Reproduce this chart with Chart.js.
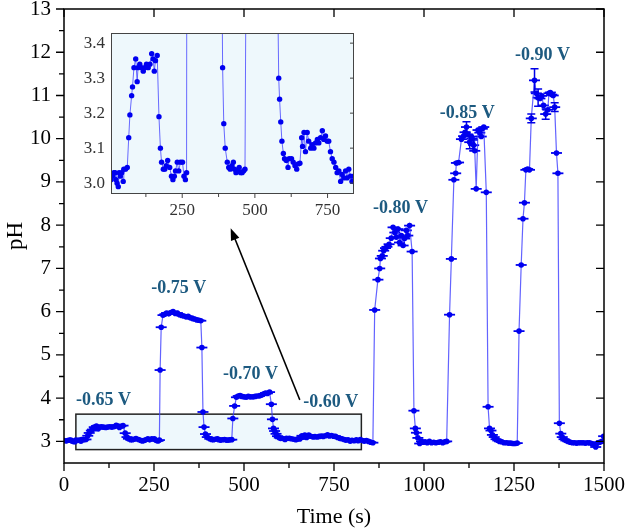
<!DOCTYPE html>
<html>
<head>
<meta charset="utf-8">
<script src="https://cdn.jsdelivr.net/npm/chart.js@4.4.1/dist/chart.umd.min.js"></script>
<style>
    body { margin: 0; background: #fff; }
    #wrap { position: relative; width: 628px; height: 528px; }
    #insetChart { position: absolute; left: 60px; top: 20px; }
</style>
</head>
<body>
<div id="wrap">
    <canvas id="mainChart" width="628" height="528"></canvas>
    <canvas id="insetChart" width="310" height="210"></canvas>
</div>
<script>
// measured series: time (s) and pH
const times = [
    0, 5, 10, 15, 19, 22, 26, 30, 33, 37, 42, 47, 49, 55, 61, 66, 70, 76, 79, 84,
    90, 95, 98, 104, 110, 116, 121, 127, 133, 139, 145, 150, 154, 158, 164, 170, 175, 179, 185, 190,
    195, 200, 207, 213, 218, 223, 227, 233, 238, 244, 251, 256, 261, 265,
    267, 270, 275, 280, 285, 291, 297, 303, 309, 315, 321, 327, 333, 339, 345, 351, 357, 363, 369, 375,
    380, 383, 386, 389, 393, 398, 405, 410, 415, 421, 426, 430, 435, 440, 446, 451, 456, 461, 466,
    469, 474, 479, 484, 489, 494, 500, 506, 512, 518, 525, 531, 537, 543, 549, 555, 560, 565, 571, 576,
    579, 582, 585, 589, 593, 598, 602, 608, 614, 618, 626, 632, 638, 644, 649, 655, 661, 664, 669, 674,
    680, 685, 692, 697, 703, 709, 715, 720, 726, 732, 737, 743, 749, 754, 760, 766, 772, 778, 783, 789,
    795, 800, 806, 812, 817, 823, 829, 834, 840, 846, 852, 858,
    863, 872, 877, 879, 884, 888, 893, 897, 903, 909, 914, 919, 923, 928, 932, 937, 942, 946, 951, 955,
    960, 967, 972, 976, 979, 983, 988, 993, 998, 1003, 1009, 1015, 1021, 1027, 1033, 1040, 1046, 1052, 1058, 1063,
    1071, 1076, 1083, 1088, 1090, 1096, 1104, 1110, 1114, 1118, 1122, 1127, 1131, 1134, 1138, 1141, 1145, 1150, 1155, 1159,
    1162, 1166, 1173, 1178, 1182, 1186, 1190, 1195, 1200, 1205, 1210, 1216, 1222, 1229, 1235, 1241, 1247, 1253, 1259,
    1264, 1270, 1275, 1279, 1283, 1288, 1293, 1298, 1307, 1312, 1317, 1322, 1327, 1332, 1338, 1344, 1347, 1351, 1355, 1359,
    1363, 1368, 1372, 1376, 1380, 1384, 1389, 1394, 1400, 1406, 1412, 1418, 1424, 1430, 1436, 1442, 1448, 1454, 1460, 1466,
    1471, 1477, 1482, 1488, 1494, 1499
];
const pH = [
    3.02, 3.01, 3.02, 3.03, 3.03, 3.01, 3.00, 2.99, 3.03, 3.02, 3.03, 3.005, 3.04, 3.04, 3.045, 3.13, 3.195, 3.25, 3.275, 3.33,
    3.355, 3.29, 3.33, 3.34, 3.33, 3.32, 3.33, 3.34, 3.33, 3.34, 3.37, 3.355, 3.32, 3.35, 3.365, 3.19, 3.10, 3.06, 3.04, 3.04,
    3.05, 3.065, 3.045, 3.02, 3.01, 3.02, 3.035, 3.06, 3.035, 3.06, 3.06, 3.02, 3.01, 3.03,
    4.65, 5.64, 5.92, 5.94, 5.97, 5.95, 5.98, 6.00, 5.96, 5.97, 5.93, 5.91, 5.90, 5.88, 5.89, 5.86, 5.84, 5.83, 5.81, 5.80,
    5.79, 5.17, 3.68, 3.33, 3.17, 3.10, 3.06, 3.045, 3.04, 3.05, 3.06, 3.04, 3.03, 3.037, 3.045, 3.03, 3.03, 3.035, 3.04,
    3.53, 3.82, 4.02, 4.05, 4.06, 4.04, 4.03, 4.02, 4.04, 4.03, 4.03, 4.04, 4.05, 4.05, 4.07, 4.10, 4.12, 4.11, 4.14, 3.86,
    3.51, 3.30, 3.24, 3.175, 3.12, 3.085, 3.07, 3.065, 3.045, 3.07, 3.07, 3.06, 3.05, 3.04, 3.055, 3.057, 3.13, 3.105, 3.145, 3.09,
    3.145, 3.12, 3.10, 3.11, 3.10, 3.115, 3.125, 3.115, 3.13, 3.15, 3.125, 3.135, 3.12, 3.12, 3.09, 3.07, 3.06, 3.045, 3.03, 3.035,
    3.005, 3.025, 3.015, 3.035, 3.015, 3.04, 3.02, 3.005, 3.02, 3.00, 2.98, 2.97,
    6.04, 6.74, 7.00, 7.23, 7.29, 7.41, 7.47, 7.50, 7.56, 7.70, 7.95, 7.83, 7.72, 7.91, 7.60, 7.76, 7.53, 7.69, 7.88, 7.76,
    7.99, 7.39, 3.71, 3.30, 3.20, 3.08, 2.95, 3.00, 2.98, 2.99, 2.97, 3.00, 2.97, 2.98, 2.97, 2.98, 2.99, 2.97, 2.99, 3.00,
    5.93, 7.22, 9.05, 9.20, 9.44, 9.45, 9.99, 10.06, 10.15, 10.27, 10.10, 9.92, 10.05, 10.00, 9.85, 9.72, 8.84, 10.20, 10.14, 10.05,
    10.23, 10.27, 8.76, 3.80, 3.30, 3.25, 3.15, 3.10, 3.05, 3.02, 3.00, 2.99, 2.97, 2.97, 2.96, 2.96, 2.95, 2.95, 2.96,
    5.55, 7.08, 8.15, 8.52, 9.28, 9.30, 9.28, 10.47, 11.35, 11.05, 10.95, 10.93, 10.99, 10.77, 10.57, 10.67, 11.05, 11.07, 11.02, 11.00,
    10.73, 9.67, 9.20, 3.42, 3.18, 3.10, 3.05, 3.02, 3.00, 2.98, 2.97, 2.97, 2.96, 2.97, 2.97, 2.97, 2.96, 2.97, 2.97, 2.95,
    2.93, 2.87, 2.96, 2.98, 3.00, 3.12
];
// vertical error bars: time -> +/- pH
const pHErr = { 1118: 0.12, 1127: 0.15, 1138: 0.12, 1298: 0.1, 1307: 0.27, 1317: 0.2, 1338: 0.12, 1363: 0.1 };

const xTicks = [0, 250, 500, 750, 1000, 1250, 1500];
const yTicks = [3, 4, 5, 6, 7, 8, 9, 10, 11, 12, 13];
const insetXTicks = [250, 500, 750];
const insetYTicks = [3.0, 3.1, 3.2, 3.3, 3.4];

const voltLabels = ['-0.65 V', '-0.75 V', '-0.70 V', '-0.60 V', '-0.80 V', '-0.85 V', '-0.90 V'];
const voltLabelAt = [[110, 3.96], [319, 6.55], [518, 4.54], [741, 3.9], [935, 8.4], [1120, 10.59], [1329, 11.93]];
const zoomBox = { x0: 33, x1: 826, y0: 2.81, y1: 3.63 };
const arrowFromTo = [[655, 3.96], [463, 7.93]];

const SERIF = "'Liberation Serif', 'Times New Roman', serif";
const series = times.map((t, i) => ({ x: t, y: pH[i] }));

function midpoints(arr) {
    return arr.slice(1).map((v, i) => (v + arr[i]) / 2);
}

const mainDecor = {
    id: 'mainDecor',
    beforeDatasetsDraw(chart) {
        const { ctx, scales: { x, y } } = chart;
        const l = x.getPixelForValue(zoomBox.x0), r = x.getPixelForValue(zoomBox.x1);
        const t = y.getPixelForValue(zoomBox.y1), b = y.getPixelForValue(zoomBox.y0);
        ctx.save();
        ctx.fillStyle = '#eef8fc';
        ctx.fillRect(l, t, r - l, b - t);
        ctx.strokeStyle = '#222';
        ctx.lineWidth = 1.5;
        ctx.strokeRect(l, t, r - l, b - t);
        ctx.restore();
    },
    afterDatasetsDraw(chart) {
        const { ctx, scales: { x, y } } = chart;
        ctx.save();
        // error bars
        ctx.strokeStyle = '#0000e6';
        ctx.lineWidth = 1.5;
        Object.keys(pHErr).forEach(k => {
            const t = Number(k);
            const v = pH[times.indexOf(t)];
            const px = x.getPixelForValue(t);
            const top = y.getPixelForValue(v + pHErr[k]), bot = y.getPixelForValue(v - pHErr[k]);
            ctx.beginPath();
            ctx.moveTo(px, top); ctx.lineTo(px, bot);
            ctx.moveTo(px - 4, top); ctx.lineTo(px + 4, top);
            ctx.moveTo(px - 4, bot); ctx.lineTo(px + 4, bot);
            ctx.stroke();
        });
        // voltage labels
        ctx.fillStyle = '#1d5a80';
        ctx.font = 'bold 18px ' + SERIF;
        ctx.textAlign = 'center';
        ctx.textBaseline = 'middle';
        voltLabels.forEach((txt, i) => {
            ctx.fillText(txt, x.getPixelForValue(voltLabelAt[i][0]), y.getPixelForValue(voltLabelAt[i][1]));
        });
        // arrow to inset
        const x0 = x.getPixelForValue(arrowFromTo[0][0]), y0 = y.getPixelForValue(arrowFromTo[0][1]);
        const x1 = x.getPixelForValue(arrowFromTo[1][0]), y1 = y.getPixelForValue(arrowFromTo[1][1]);
        const ang = Math.atan2(y1 - y0, x1 - x0);
        ctx.strokeStyle = '#000';
        ctx.fillStyle = '#000';
        ctx.lineWidth = 1.5;
        ctx.beginPath();
        ctx.moveTo(x0, y0);
        ctx.lineTo(x1 - 8 * Math.cos(ang), y1 - 8 * Math.sin(ang));
        ctx.stroke();
        ctx.beginPath();
        ctx.moveTo(x1, y1);
        ctx.lineTo(x1 - 12 * Math.cos(ang) + 4.5 * Math.sin(ang), y1 - 12 * Math.sin(ang) - 4.5 * Math.cos(ang));
        ctx.lineTo(x1 - 12 * Math.cos(ang) - 4.5 * Math.sin(ang), y1 - 12 * Math.sin(ang) + 4.5 * Math.cos(ang));
        ctx.closePath();
        ctx.fill();
        ctx.restore();
    },
    afterDraw(chart) {
        const { ctx, chartArea: a, scales: { x, y } } = chart;
        ctx.save();
        ctx.strokeStyle = '#000';
        ctx.lineWidth = 1.5;
        ctx.strokeRect(a.left, a.top, a.right - a.left, a.bottom - a.top);
        ctx.lineWidth = 1.3;
        ctx.beginPath();
        xTicks.forEach(v => {
            const px = x.getPixelForValue(v);
            ctx.moveTo(px, a.bottom); ctx.lineTo(px, a.bottom + 8);
            ctx.moveTo(px, a.top); ctx.lineTo(px, a.top + 8);
        });
        midpoints(xTicks).forEach(v => {
            const px = x.getPixelForValue(v);
            ctx.moveTo(px, a.bottom); ctx.lineTo(px, a.bottom + 5);
        });
        yTicks.forEach(v => {
            const py = y.getPixelForValue(v);
            ctx.moveTo(a.left, py); ctx.lineTo(a.left - 8, py);
            ctx.moveTo(a.right, py); ctx.lineTo(a.right - 8, py);
        });
        midpoints(yTicks).forEach(v => {
            const py = y.getPixelForValue(v);
            ctx.moveTo(a.left, py); ctx.lineTo(a.left - 5, py);
        });
        ctx.stroke();
        ctx.restore();
    }
};

const insetDecor = {
    id: 'insetDecor',
    beforeDatasetsDraw(chart) {
        const { ctx, chartArea: a } = chart;
        ctx.save();
        ctx.fillStyle = '#eef8fc';
        ctx.fillRect(a.left, a.top, a.right - a.left, a.bottom - a.top);
        ctx.restore();
    },
    afterDraw(chart) {
        const { ctx, chartArea: a, scales: { x, y } } = chart;
        ctx.save();
        ctx.strokeStyle = '#444';
        ctx.lineWidth = 1;
        ctx.strokeRect(a.left + 0.5, a.top + 0.5, a.right - a.left - 1, a.bottom - a.top - 1);
        ctx.beginPath();
        insetXTicks.forEach(v => {
            const px = x.getPixelForValue(v);
            ctx.moveTo(px, a.bottom); ctx.lineTo(px, a.bottom + 4);
        });
        [125, 375, 625].forEach(v => {
            const px = x.getPixelForValue(v);
            ctx.moveTo(px, a.bottom); ctx.lineTo(px, a.bottom + 3);
        });
        insetYTicks.forEach(v => {
            const py = y.getPixelForValue(v);
            ctx.moveTo(a.right, py); ctx.lineTo(a.right - 4, py);
        });
        ctx.stroke();
        ctx.restore();
    }
};

new Chart(document.getElementById('mainChart'), {
    type: 'line',
    data: {
        datasets: [
            {
                data: series,
                borderColor: 'rgba(60,60,255,0.8)',
                borderWidth: 1.2,
                tension: 0,
                pointStyle: 'circle',
                pointRadius: 2.8,
                pointBackgroundColor: '#0000f0',
                pointBorderWidth: 0
            },
            {
                data: series,
                showLine: false,
                pointStyle: 'line',
                pointRadius: 5.5,
                pointBorderColor: '#0000f0',
                pointBorderWidth: 1.8
            }
        ]
    },
    options: {
        responsive: false,
        animation: false,
        layout: { padding: { top: 9, right: 24, left: 0, bottom: 0 } },
        plugins: { legend: { display: false }, tooltip: { enabled: false } },
        scales: {
            x: {
                type: 'linear',
                min: 0,
                max: 1500,
                afterBuildTicks: s => { s.ticks = xTicks.map(v => ({ value: v })); },
                afterFit: s => { s.height = 65; s.paddingLeft = 0; s.paddingRight = 0; },
                grid: { display: false, drawTicks: false },
                border: { display: false },
                ticks: {
                    padding: 10, maxRotation: 0, color: '#000',
                    font: { family: SERIF, size: 21 },
                    callback: v => String(v)
                },
                title: {
                    display: true, text: 'Time (s)', color: '#000',
                    font: { family: SERIF, size: 22, lineHeight: 1 },
                    padding: { top: 0, bottom: 0 }
                }
            },
            y: {
                type: 'linear',
                min: 2.5,
                max: 13,
                afterBuildTicks: s => { s.ticks = yTicks.map(v => ({ value: v })); },
                afterFit: s => { s.width = 64; s.paddingTop = 0; s.paddingBottom = 0; },
                grid: { display: false, drawTicks: false },
                border: { display: false },
                ticks: { padding: 13, color: '#000', font: { family: SERIF, size: 21 }, callback: v => String(v) },
                title: {
                    display: true, text: 'pH', color: '#000',
                    font: { family: SERIF, size: 23, lineHeight: 1 },
                    padding: { top: 4, bottom: 0 }
                }
            }
        }
    },
    plugins: [mainDecor]
});

new Chart(document.getElementById('insetChart'), {
    type: 'line',
    data: {
        datasets: [{
            data: series,
            clip: 0,
            borderColor: 'rgba(70,70,255,0.8)',
            borderWidth: 1,
            tension: 0,
            pointStyle: 'circle',
            pointRadius: 2.7,
            pointBackgroundColor: '#0000f0',
            pointBorderWidth: 0
        }]
    },
    options: {
        responsive: false,
        animation: false,
        layout: { padding: { top: 13, right: 16, left: 0, bottom: 0 } },
        plugins: { legend: { display: false }, tooltip: { enabled: false } },
        scales: {
            x: {
                type: 'linear',
                min: 5,
                max: 841,
                afterBuildTicks: s => { s.ticks = insetXTicks.map(v => ({ value: v })); },
                afterFit: s => { s.height = 36; s.paddingLeft = 0; s.paddingRight = 0; },
                grid: { display: false, drawTicks: false },
                border: { display: false },
                ticks: { padding: 6, maxRotation: 0, color: '#333', font: { family: SERIF, size: 17 }, callback: v => String(v) }
            },
            y: {
                type: 'linear',
                min: 2.969,
                max: 3.429,
                afterBuildTicks: s => { s.ticks = insetYTicks.map(v => ({ value: v })); },
                afterFit: s => { s.width = 51; s.paddingTop = 0; s.paddingBottom = 0; },
                grid: { display: false, drawTicks: false },
                border: { display: false },
                ticks: { padding: 6, color: '#333', font: { family: SERIF, size: 17 }, callback: v => v.toFixed(1) }
            }
        }
    },
    plugins: [insetDecor]
});
</script>
</body>
</html>
